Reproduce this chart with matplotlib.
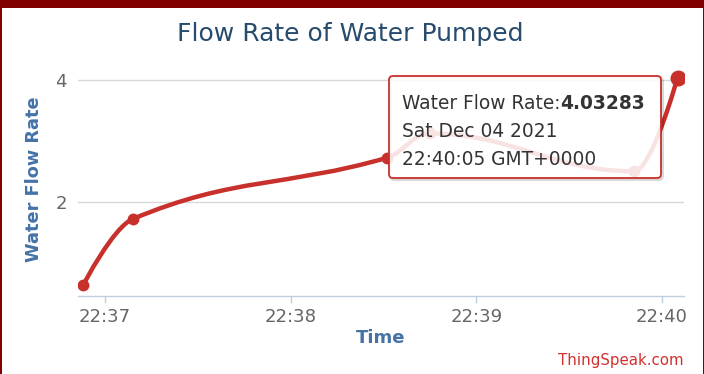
import matplotlib
matplotlib.use('Agg')
import matplotlib.pyplot as plt
import numpy as np
from matplotlib.path import Path
from matplotlib.patches import PathPatch, FancyBboxPatch, Rectangle

plt.rcParams['font.family'] = 'DejaVu Sans'

# readings (UTC)
times = ['22:36:53', '22:37:09', '22:38:31', '22:38:45', '22:39:51', '22:40:05']
flow = [0.64, 1.72, 2.72, 3.12, 2.50, 4.03283]
x_ticks = ['22:37', '22:38', '22:39', '22:40']
y_ticks = [2, 4]

RED = '#c8302b'
BLUE = '#4572a7'
GRAY = '#666666'


def to_sec(s):
    parts = [int(p) for p in s.split(':')]
    while len(parts) < 3:
        parts.append(0)
    return parts[0] * 3600 + parts[1] * 60 + parts[2]


xs = np.array([to_sec(t) for t in times], dtype=float)
ys = np.array(flow, dtype=float)
tick_pos = [to_sec(t) for t in x_ticks]


def spline_path(x, y, smoothing=1.5):
    # Highcharts-style spline: cubic bezier with control points from neighbours
    n = len(x)
    verts = [(x[0], y[0])]
    codes = [Path.MOVETO]
    right = [None] * n
    for i in range(1, n):
        lx, ly = (x[i], y[i])
        if i < n - 1:
            px, py = x[i - 1], y[i - 1]
            nx, ny = x[i + 1], y[i + 1]
            d = smoothing + 1
            lcx = (smoothing * x[i] + px) / d
            lcy = (smoothing * y[i] + py) / d
            rcx = (smoothing * x[i] + nx) / d
            rcy = (smoothing * y[i] + ny) / d
            corr = 0.0
            if rcx != lcx:
                corr = (rcy - lcy) * (rcx - x[i]) / (rcx - lcx) + y[i] - rcy
            lcy += corr
            rcy += corr
            if lcy > py and lcy > y[i]:
                lcy = max(py, y[i]); rcy = 2 * y[i] - lcy
            elif lcy < py and lcy < y[i]:
                lcy = min(py, y[i]); rcy = 2 * y[i] - lcy
            if rcy > ny and rcy > y[i]:
                rcy = max(ny, y[i]); lcy = 2 * y[i] - rcy
            elif rcy < ny and rcy < y[i]:
                rcy = min(ny, y[i]); lcy = 2 * y[i] - rcy
            lx, ly = lcx, lcy
            right[i] = (rcx, rcy)
        c1 = right[i - 1] if right[i - 1] is not None else (x[i - 1], y[i - 1])
        verts += [c1, (lx, ly), (x[i], y[i])]
        codes += [Path.CURVE4] * 3
    return Path(verts, codes)


W, H = 704, 374
fig = plt.figure(figsize=(W / 100, H / 100), dpi=100)
ax = fig.add_axes([78 / W, 1 - 296 / H, 606 / W, 234 / H])

ax.add_patch(PathPatch(spline_path(xs, ys), facecolor='none', edgecolor=RED,
                       lw=3.2, capstyle='round', joinstyle='round', zorder=3))
ax.plot(xs[:-1], ys[:-1], 'o', color=RED, ms=7.5, zorder=4)
ax.plot(xs[-1:], ys[-1:], 'o', color=RED, ms=10.5, zorder=4)

ax.set_xlim(to_sec('22:36:51') + 0.3, to_sec('22:40:07') + 0.1)
ax.set_ylim(0.459, 4.29)
ax.set_xticks(tick_pos)
ax.set_xticklabels(x_ticks)
ax.set_yticks(y_ticks)
ax.grid(axis='y', color='#d8d8d8', lw=1)
ax.set_axisbelow(True)
for side in ['top', 'right', 'left']:
    ax.spines[side].set_visible(False)
ax.spines['bottom'].set_color('#c0d0e0')
ax.spines['bottom'].set_linewidth(1)
ax.tick_params(axis='x', colors='#c0d0e0', length=5, width=1, labelcolor=GRAY,
               labelsize=13, pad=4)
ax.tick_params(axis='y', length=0, labelcolor=GRAY, labelsize=13, pad=8)
ax.set_xlabel('Time', color=BLUE, fontsize=13, fontweight='bold', labelpad=2)
ax.set_ylabel('Water Flow Rate', color=BLUE, fontsize=12.8, fontweight='bold', labelpad=9)

# overlay in pixel units for frame, title, tooltip and credit
ov = fig.add_axes([0, 0, 1, 1], zorder=10)
ov.set_xlim(0, W)
ov.set_ylim(H, 0)
ov.axis('off')
ov.patch.set_alpha(0)

ov.add_patch(Rectangle((0, 0), W, 8, color='#800000', lw=0))
ov.add_patch(Rectangle((0, 0), 2, H, color='#800000', lw=0))
ov.add_patch(Rectangle((W - 1, 0), 1, H, color='#800000', lw=0))

ov.text(350, 34, 'Flow Rate of Water Pumped', ha='center', va='center',
        color='#274b6d', fontsize=18)
ov.text(684, 360, 'ThingSpeak.com', ha='right', va='center', color='#d0312d',
        fontsize=10.8)

# tooltip
bx, by, bw, bh = 389, 76, 272, 102
ov.add_patch(FancyBboxPatch((bx + 1.5, by + 1.5), bw, bh, boxstyle='round,pad=0,rounding_size=4',
                            facecolor='none', edgecolor='#000000', alpha=0.15, lw=2.2))
ov.add_patch(FancyBboxPatch((bx, by), bw, bh, boxstyle='round,pad=0,rounding_size=4',
                            facecolor='white', alpha=0.87, edgecolor='none'))
ov.add_patch(FancyBboxPatch((bx, by), bw, bh, boxstyle='round,pad=0,rounding_size=4',
                            facecolor='none', edgecolor=RED, lw=1.3))
tip_fs = 13.4
t1 = ov.text(402, 103, 'Water Flow Rate:', ha='left', va='center', color='#333333', fontsize=tip_fs)
ov.annotate(f'{flow[-1]:.5f}', xy=(1, 0), xycoords=t1, va='bottom', ha='left',
            color='#333333', fontsize=tip_fs, fontweight='bold')
ov.text(402, 131, 'Sat Dec 04 2021', ha='left', va='center', color='#333333', fontsize=tip_fs)
ov.text(402, 159, '22:40:05 GMT+0000', ha='left', va='center', color='#333333', fontsize=tip_fs)

fig.savefig('out.png', dpi=100)
